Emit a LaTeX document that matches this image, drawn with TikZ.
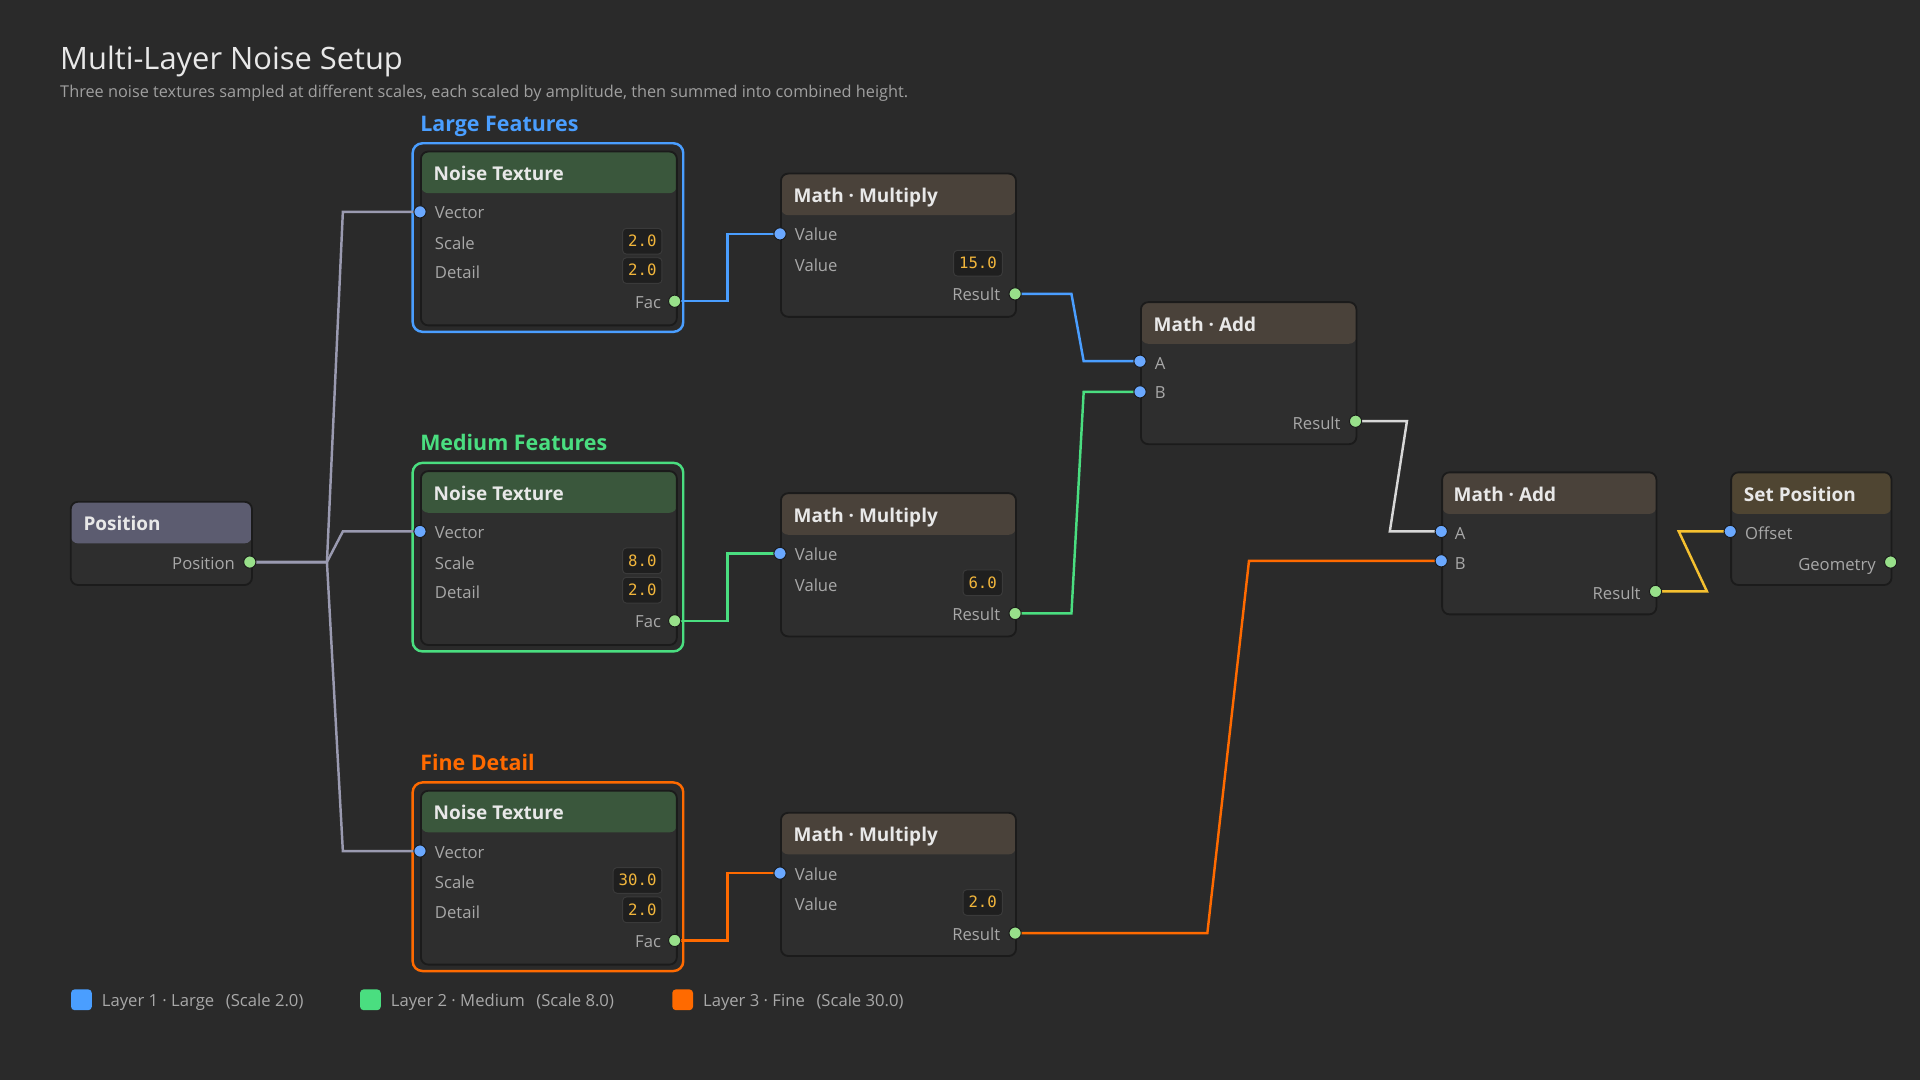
\documentclass[tikz,border=0pt]{standalone}
\usepackage{fontspec}
\setmainfont{Open Sans}
\newfontfamily\valfont{DejaVu Sans Mono}
\usetikzlibrary{calc}

\definecolor{bgcol}{HTML}{2A2A2A}
\definecolor{bodycol}{HTML}{2E2E2E}
\definecolor{edgecol}{HTML}{1B1B1B}
\definecolor{poshead}{HTML}{5C5C70}
\definecolor{noisehead}{HTML}{3A573C}
\definecolor{mathhead}{HTML}{4A423A}
\definecolor{sethead}{HTML}{4F4532}
\definecolor{titlecol}{HTML}{E8E8E8}
\definecolor{subcol}{HTML}{A0A0A0}
\definecolor{rowcol}{HTML}{A8A8A8}
\definecolor{valcol}{HTML}{F2B63C}
\definecolor{boxcol}{HTML}{1F1F1F}
\definecolor{boxedge}{HTML}{3A3A3A}
\definecolor{lblue}{HTML}{4A9EFF}
\definecolor{lgreen}{HTML}{4ADE80}
\definecolor{lorange}{HTML}{FF6A00}
\definecolor{posline}{HTML}{9A9AB0}
\definecolor{sumline}{HTML}{D8D8D8}
\definecolor{setline}{HTML}{F5C030}
\definecolor{incol}{HTML}{6AA8FF}
\definecolor{outcol}{HTML}{98E08A}

\begin{document}
\begin{tikzpicture}[x=1pt,y=-1pt,
    nbox/.style={draw=edgecol, line width=1.5pt, fill=bodycol, rounded corners=6pt,
      anchor=north west, inner sep=0pt,
      path picture={\fill[#1] (path picture bounding box.north west) rectangle
        ([yshift=-34pt]path picture bounding box.north east);}},
    head/.style={anchor=west, inner sep=0pt, text=titlecol, text height=11pt, text depth=0pt,
      font=\fontsize{15.5}{18}\selectfont\bfseries},
    inlab/.style={anchor=west, inner sep=0pt, text=rowcol, text height=9.5pt, text depth=0pt,
      font=\fontsize{13.6}{16}\selectfont},
    outlab/.style={inlab, anchor=east},
    val/.style={anchor=east, fill=boxcol, draw=boxedge, line width=0.8pt, rounded corners=3pt,
      text=valcol, inner xsep=4.5pt, minimum height=21pt, text height=8.8pt, text depth=0pt,
      font=\valfont\fontsize{12.8}{14}\selectfont},
    grp/.style={draw=#1, line width=2pt, rounded corners=8pt},
    grplab/.style={anchor=west, inner sep=0pt, text height=12pt, text depth=0pt,
      font=\fontsize{17.5}{20}\selectfont\bfseries},
    wire/.style={line width=2pt, draw=#1},
    link/.style={to path={-- ++(#1,0) -- ($(\tikztotarget)+(-#1,0)$) -- (\tikztotarget)}},
    insock/.style={circle, fill=incol, draw=edgecol, line width=0.8pt, inner sep=0pt, minimum size=10pt},
    outsock/.style={insock, fill=outcol},
    key/.style={fill=#1, rounded corners=3pt},
    keylab/.style={anchor=west, inner sep=0pt, text=rowcol, text height=9.5pt, text depth=0pt,
      font=\fontsize{13.6}{16}\selectfont}
  ]
\fill[bgcol] (0,0) rectangle (1568,882);
\useasboundingbox (0,0) rectangle (1568,882);

% title
\node[anchor=base west, inner sep=0pt, text=titlecol, font=\fontsize{25.2}{30}\selectfont]
  (title) at (49,57) {Multi-Layer Noise Setup};
\node[anchor=base west, inner sep=0pt, text=subcol, font=\fontsize{13.3}{16}\selectfont]
  (subtitle) at (49,79.5) {Three noise textures sampled at different scales, each scaled by amplitude, then summed into combined height.};

% input position
\node[nbox=poshead, minimum width=148pt, minimum height=68pt] (pos) at (57,409) {};
\node[head] at (68,428) {Position};
\node[outlab] at (192,460) {Position};
\coordinate (pos-out) at (204,459);

% the three noise layers
\foreach \i/\dy/\gc/\glab/\sv/\mv in {1/0/lblue/Large Features/2.0/15.0,
    2/261/lgreen/Medium Features/8.0/6.0, 3/522/lorange/Fine Detail/30.0/2.0}{
  \draw[grp=\gc] (337,117+\dy) rectangle (558,271+\dy);
  \node[grplab, text=\gc] (lab\i) at (343,101+\dy) {\glab};
  \node[nbox=noisehead, minimum width=209pt, minimum height=142pt] (nt\i) at (343,123+\dy) {};
  \node[head] at (354,142+\dy) {Noise Texture};
  \node[inlab] at (355,174+\dy) {Vector};
  \node[inlab] at (355,199+\dy) {Scale};
  \node[inlab] at (355,223+\dy) {Detail};
  \node[outlab] at (540,247+\dy) {Fac};
  \node[val] at (541,197+\dy) {\sv};
  \node[val] at (541,221+\dy) {2.0};
  \coordinate (nt\i-vec) at (343,173+\dy);
  \coordinate (nt\i-fac) at (551,246+\dy);
  % multiply
  \node[nbox=mathhead, minimum width=192pt, minimum height=117pt] (mul\i) at (637,141+\dy) {};
  \node[head] at (648,160+\dy) {Math · Multiply};
  \node[inlab] at (649,192+\dy) {Value};
  \node[inlab] at (649,217+\dy) {Value};
  \node[val] at (819,215+\dy) {\mv};
  \node[outlab] at (817,241+\dy) {Result};
  \coordinate (mul\i-in) at (637,191+\dy);
  \coordinate (mul\i-out) at (829,240+\dy);
  \draw[wire=\gc, link=43] (nt\i-fac) to (mul\i-in);
}

% first add
\node[nbox=mathhead, minimum width=176pt, minimum height=116pt] (add1) at (931,246) {};
\node[head] at (942,265) {Math · Add};
\node[inlab] at (943,297) {A};
\node[inlab] at (943,321) {B};
\node[outlab] at (1095,346) {Result};
\coordinate (add1-a) at (931,295);
\coordinate (add1-b) at (931,320);
\coordinate (add1-out) at (1107,344);

% second add
\node[nbox=mathhead, minimum width=175pt, minimum height=116pt] (add2) at (1177,385) {};
\node[head] at (1187,404) {Math · Add};
\node[inlab] at (1188,436) {A};
\node[inlab] at (1188,460) {B};
\node[outlab] at (1340,485) {Result};
\coordinate (add2-a) at (1177,434);
\coordinate (add2-b) at (1177,458);
\coordinate (add2-out) at (1352,483);

% output
\node[nbox=sethead, minimum width=131pt, minimum height=92pt] (setpos) at (1413,385) {};
\node[head] at (1424,404) {Set Position};
\node[inlab] at (1425,436) {Offset};
\node[outlab] at (1532,461) {Geometry};
\coordinate (set-off) at (1413,434);
\coordinate (set-geo) at (1544,459);

% wires
\foreach \i in {1,2,3}
  \draw[wire=posline, link=63] (pos-out) to (nt\i-vec);
\draw[wire=lblue, link=46] (mul1-out) to (add1-a);
\draw[wire=lgreen, link=46] (mul2-out) to (add1-b);
\draw[wire=lorange, link=157] (mul3-out) to (add2-b);
\draw[wire=sumline, link=42] (add1-out) to (add2-a);
\draw[wire=setline, link=42] (add2-out) to (set-off);

% sockets
\foreach \s in {nt1-vec,nt2-vec,nt3-vec,mul1-in,mul2-in,mul3-in,add1-a,add1-b,add2-a,add2-b,set-off}
  \node[insock] (\s-dot) at (\s) {};
\foreach \s in {pos-out,nt1-fac,nt2-fac,nt3-fac,mul1-out,mul2-out,mul3-out,add1-out,add2-out,set-geo}
  \node[outsock] (\s-dot) at (\s) {};

% legend
\fill[key=lblue] (58,808) rectangle (75,825);
\node[keylab] (key1) at (83,817) {Layer 1 · Large\hspace{0.7em}(Scale 2.0)};
\fill[key=lgreen] (294,808) rectangle (311,825);
\node[keylab] (key2) at (319,817) {Layer 2 · Medium\hspace{0.7em}(Scale 8.0)};
\fill[key=lorange] (549,808) rectangle (566,825);
\node[keylab] (key3) at (574,817) {Layer 3 · Fine\hspace{0.7em}(Scale 30.0)};
\end{tikzpicture}
\end{document}
